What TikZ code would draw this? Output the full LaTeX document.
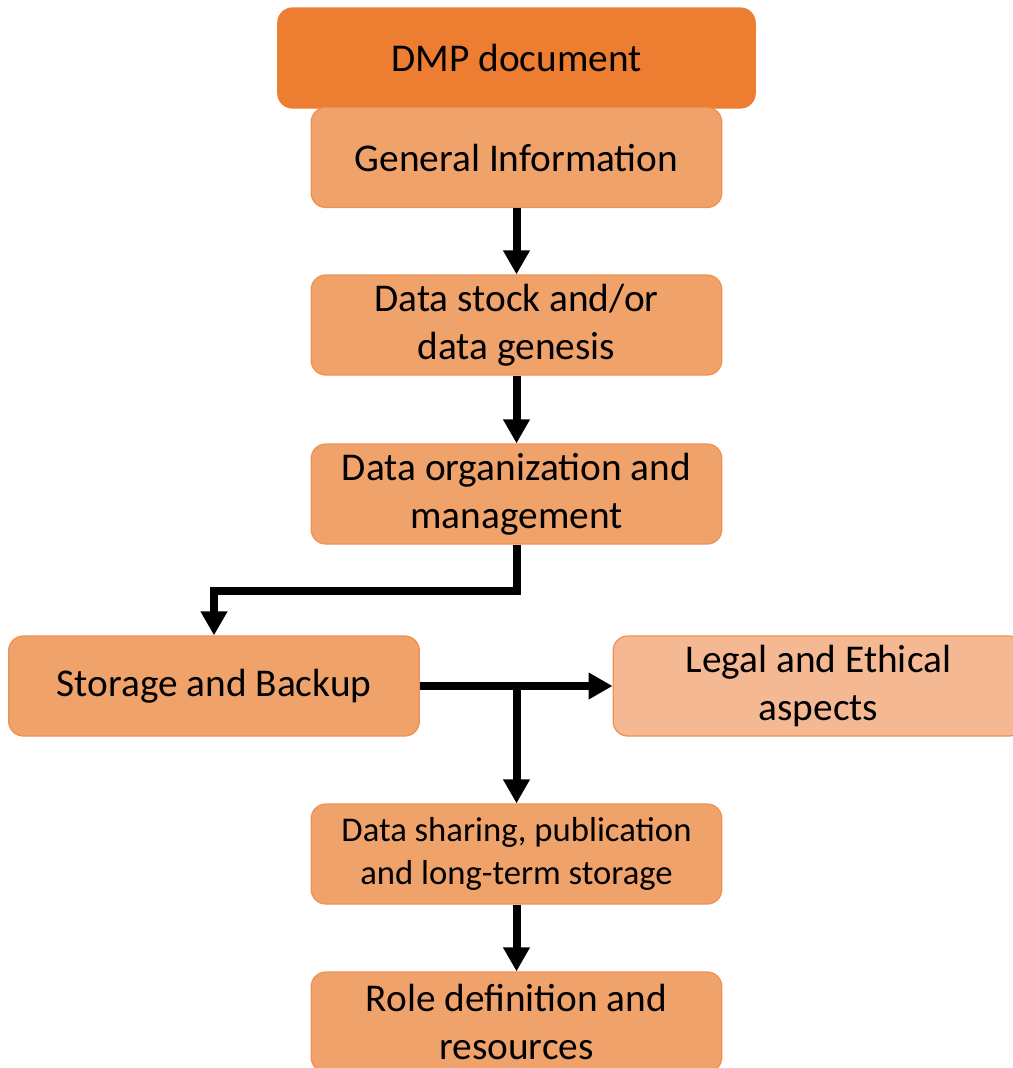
\documentclass[tikz,border=0pt]{standalone}
\usepackage{fontspec}
\setmainfont{Carlito}
\usetikzlibrary{
  arrows.meta,
  chains,
  scopes,
  positioning
}
\definecolor{dmporange}{HTML}{ED7D31}
\definecolor{stepfill}{HTML}{F0A26B}
\definecolor{sidefill}{HTML}{F4B992}

\begin{document}
\begin{tikzpicture}[
      x=0.75pt, y=-0.75pt,
      section/.style={
         rectangle,
         rounded corners=11pt,
         minimum width=308pt,
         minimum height=75pt,
         inner sep=0pt,
         line width=0.9pt,
         draw=dmporange!85,
         fill=stepfill,
         align=center,
         font=\fontsize{29.5}{36}\selectfont
      },
      title/.style={
         section,
         minimum width=358pt,
         draw=dmporange,
         fill=dmporange
      },
      side/.style={
         section,
         fill=sidefill
      },
      small text/.style={font=\fontsize{26}{32}\selectfont},
      tip/.style={-{Triangle[length=18pt,width=19pt]},line width=6pt},
      every join/.style={tip},
    ]
    \useasboundingbox (0,0) rectangle (1013,1068);
    \clip (0,0) rectangle (1013,1068);
    \node (n1) [title] at (516.5,58) {DMP document};
    \node (n2) [section] at (516.5,157.5) {General Information};
    \node (n3) [section] at (516.5,325) {Data stock and/or\\data genesis};
    \node (n4) [section] at (516.5,494) {Data organization and\\management};
    \node (n5) [section] at (214,686) {Storage and Backup};
    \node (n6) [side] at (818.5,686) {Legal and Ethical\\aspects};
    \node (n7) [section, small text] at (516.5,854) {Data sharing, publication\\and long-term storage};
    \node (n8) [section] at (516.5,1022) {Role definition and\\resources};
  { [start chain]
       \chainin (n2);
       \chainin (n3)    [join=by tip];
       \chainin (n4)    [join=by tip];
  }
    \draw[tip] (n4.south) -- ++(0,46) -| (n5.north);
    \coordinate (fork) at (n5.east -| n4.south);
    \draw[tip] (n5.east) -- (n6.west);
    \draw[tip] (fork) -- (n7.north);
  { [start chain]
       \chainin (n7);
       \chainin (n8)    [join=by tip];
  }
\end{tikzpicture}
\end{document}
